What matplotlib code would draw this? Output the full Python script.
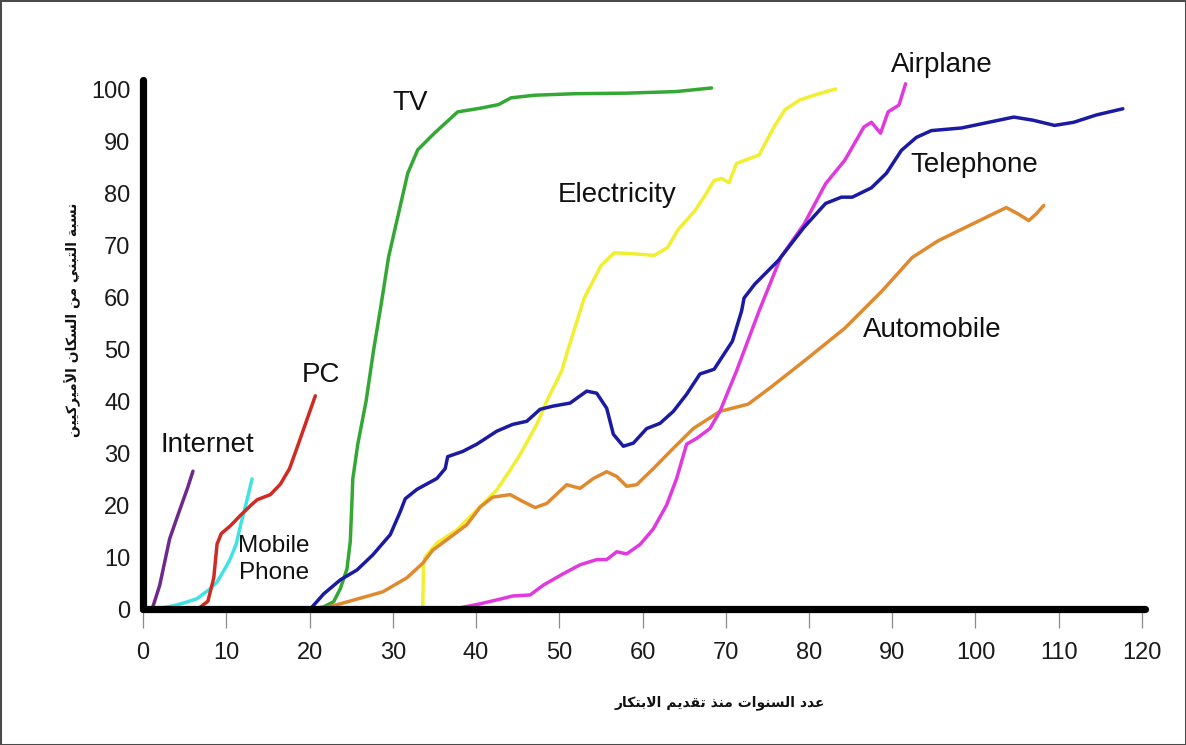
import matplotlib
matplotlib.use("Agg")
import matplotlib.pyplot as plt
from matplotlib.patches import Rectangle

# ---------------- data (years since invention, % adoption) ----------------
internet = [(1.1, 0), (2.0, 4.5), (3.2, 13.5), (4.4, 19), (5.4, 23.5), (6.0, 26.5)]
mobile_phone = [(1.4, 0), (3.6, 0.6), (5.0, 1.2), (6.5, 2), (8.0, 3.8), (8.9, 5.2),
                (10.0, 8.2), (10.5, 9.7), (11.2, 12.5), (11.7, 16), (12.5, 21), (13.1, 25)]
pc = [(6.6, 0), (7.8, 1.5), (8.5, 6), (8.9, 12.5), (9.4, 14.5), (10.5, 16), (11.7, 18),
      (13.0, 20), (13.7, 21), (15.3, 22), (16.5, 24), (17.6, 27), (18.5, 31), (19.6, 36),
      (20.7, 41)]
tv = [(7.0, 0), (20.0, 0), (21.7, 0.4), (22.9, 1.4), (23.7, 3.9), (24.5, 7.7), (24.9, 13),
      (25.1, 20.7), (25.2, 25), (25.8, 31.7), (26.8, 40), (27.7, 49.8), (28.6, 58.5),
      (29.5, 67.7), (30.6, 75.4), (31.8, 83.8), (33.0, 88.3), (35.0, 91.5), (37.8, 95.6),
      (40.5, 96.3), (42.7, 97), (44.2, 98.3), (47.0, 98.8), (52.0, 99.1), (58.0, 99.2),
      (64.0, 99.5), (68.3, 100.2)]
electricity = [(33.6, 0), (33.7, 8.5), (33.9, 10), (35.3, 12.7), (37.7, 15.2), (40.1, 19),
               (42.5, 22.9), (44.1, 26.7), (45.3, 29.7), (47.3, 35.5), (48.5, 40),
               (50.3, 45.8), (51.0, 49.6), (53.0, 59.8), (55.0, 66), (56.6, 68.5),
               (59.0, 68.3), (61.4, 68), (63.0, 69.5), (64.3, 73), (66.3, 76.6),
               (67.5, 79.5), (68.6, 82.4), (69.5, 82.8), (70.4, 82), (71.3, 85.7),
               (74.0, 87.3), (75.8, 92.7), (77.1, 96), (78.9, 97.9), (81.0, 99),
               (83.2, 100)]
airplane = [(32.8, 0), (38.0, 0.2), (40.5, 1), (42.9, 1.9), (44.4, 2.5), (46.5, 2.7),
            (48.1, 4.6), (50.5, 6.8), (52.5, 8.5), (54.5, 9.5), (55.7, 9.5), (56.9, 11),
            (58.1, 10.6), (59.7, 12.4), (61.3, 15.4), (62.9, 20), (64.1, 25.1),
            (65.3, 31.7), (66.5, 32.8), (68.1, 34.7), (69.3, 38), (71.3, 45.8),
            (74.0, 57.3), (76.6, 67.6), (79.4, 74), (82.0, 81.8), (84.3, 86.3),
            (86.6, 92.7), (87.5, 93.6), (88.6, 91.5), (89.5, 95.6), (90.8, 96.9),
            (91.6, 101)]
telephone = [(20.1, 0), (21.7, 2.9), (23.7, 5.6), (25.7, 7.5), (27.6, 10.4), (29.7, 14.3),
             (30.9, 18.7), (31.5, 21.2), (32.9, 23), (35.3, 25.1), (36.3, 27), (36.6, 29.3),
             (38.4, 30.3), (40.1, 31.7), (42.5, 34.2), (44.4, 35.5), (46.1, 36.1),
             (47.7, 38.4), (49.2, 39), (51.3, 39.6), (53.3, 41.9), (54.5, 41.5),
             (55.7, 38.6), (56.5, 33.6), (57.7, 31.3), (58.9, 31.9), (60.5, 34.7),
             (62.1, 35.7), (63.7, 38), (65.3, 41.3), (66.9, 45.2), (68.6, 46.1),
             (70.8, 51.5), (71.9, 57.3), (72.2, 59.8), (73.5, 62.5), (76.3, 67),
             (79.4, 73.4), (82.0, 78), (83.9, 79.2), (85.2, 79.2), (87.5, 81),
             (89.3, 83.8), (91.1, 88.2), (92.9, 90.7), (94.7, 92), (98.3, 92.5),
             (101.0, 93.4), (104.6, 94.6), (106.9, 94), (109.5, 93), (111.8, 93.6),
             (114.5, 95), (117.7, 96.2)]
automobile = [(21.3, 0), (23.7, 1.0), (25.7, 1.9), (28.8, 3.3), (31.7, 6), (33.6, 8.8),
              (34.8, 11.3), (36.9, 13.8), (38.9, 16.2), (40.5, 19.6), (42.0, 21.5),
              (44.1, 22), (45.6, 20.7), (47.1, 19.5), (48.5, 20.3), (50.9, 23.9),
              (52.5, 23.2), (54.1, 25.1), (55.7, 26.4), (56.9, 25.5), (58.1, 23.6),
              (59.3, 23.9), (61.3, 27), (63.7, 30.9), (66.1, 34.7), (69.3, 38),
              (72.7, 39.4), (75.3, 42.5), (79.9, 48.3), (84.3, 54), (88.8, 61.2),
              (92.4, 67.6), (95.5, 70.8), (99.2, 73.7), (103.7, 77.2), (105.1, 76),
              (106.4, 74.7), (107.3, 76), (108.2, 77.6)]

x_ticks = list(range(0, 121, 10))
y_ticks = list(range(0, 101, 10))
x_label = "عدد السنوات منذ تقديم الابتكار"
y_label = "نسبة التبني من السكان الأميركيين"

# ---------------- minimal Arabic shaping (presentation forms + RTL order) ----------------
FORMS = {
    "\u0627": ("\uFE8D", "\uFE8E", None, None),
    "\u0623": ("\uFE83", "\uFE84", None, None),
    "\u0628": ("\uFE8F", "\uFE90", "\uFE91", "\uFE92"),
    "\u0629": ("\uFE93", "\uFE94", None, None),
    "\u062A": ("\uFE95", "\uFE96", "\uFE97", "\uFE98"),
    "\u062F": ("\uFEA9", "\uFEAA", None, None),
    "\u0630": ("\uFEAB", "\uFEAC", None, None),
    "\u0631": ("\uFEAD", "\uFEAE", None, None),
    "\u0633": ("\uFEB1", "\uFEB2", "\uFEB3", "\uFEB4"),
    "\u0639": ("\uFEC9", "\uFECA", "\uFECB", "\uFECC"),
    "\u0642": ("\uFED5", "\uFED6", "\uFED7", "\uFED8"),
    "\u0643": ("\uFED9", "\uFEDA", "\uFEDB", "\uFEDC"),
    "\u0644": ("\uFEDD", "\uFEDE", "\uFEDF", "\uFEE0"),
    "\u0645": ("\uFEE1", "\uFEE2", "\uFEE3", "\uFEE4"),
    "\u0646": ("\uFEE5", "\uFEE6", "\uFEE7", "\uFEE8"),
    "\u0648": ("\uFEED", "\uFEEE", None, None),
    "\u064A": ("\uFEF1", "\uFEF2", "\uFEF3", "\uFEF4"),
}
LAMALEF = {"\u0627": ("\uFEFB", "\uFEFC"), "\u0623": ("\uFEF7", "\uFEF8")}


def shape(text):
    merged, i = [], 0
    while i < len(text):
        c = text[i]
        if c == "\u0644" and i + 1 < len(text) and text[i + 1] in LAMALEF:
            merged.append(("LA", text[i + 1]))
            i += 2
        else:
            merged.append(c)
            i += 1

    def dual(c):
        return isinstance(c, str) and c in FORMS and FORMS[c][2] is not None

    def joining(c):
        return isinstance(c, tuple) or (c in FORMS)

    res = []
    for k, c in enumerate(merged):
        prev = merged[k - 1] if k > 0 else None
        nxt = merged[k + 1] if k + 1 < len(merged) else None
        jp = prev is not None and dual(prev)
        if isinstance(c, tuple):
            iso, fin = LAMALEF[c[1]]
            res.append(fin if jp else iso)
            continue
        if c not in FORMS:
            res.append(c)
            continue
        iso, fin, ini, med = FORMS[c]
        jn = ini is not None and nxt is not None and joining(nxt)
        if jp and jn:
            res.append(med)
        elif jp:
            res.append(fin)
        elif jn:
            res.append(ini)
        else:
            res.append(iso)
    return "".join(reversed(res))


# ---------------- figure ----------------
plt.rcParams["font.family"] = ["Liberation Sans", "DejaVu Sans"]
W, H = 1186, 745
fig = plt.figure(figsize=(W / 100, H / 100), dpi=100)
fig.patch.set_facecolor("white")
ax = fig.add_axes([143 / W, (H - 609) / H, (1145 - 143) / W, (609 - 80) / H])
ax.set_xlim(0, (1145 - 143) / 8.325)
ax.set_ylim(0, (609 - 80) / 5.2)

series = [
    (internet, "#6e2a8a"),
    (mobile_phone, "#3fe3e6"),
    (pc, "#d02a22"),
    (tv, "#34a834"),
    (electricity, "#f2ee30"),
    (automobile, "#e08a30"),
    (airplane, "#e03ade"),
    (telephone, "#1a1aa2"),
]
for pts, col in series:
    xs = [p[0] for p in pts]
    ys = [p[1] for p in pts]
    ax.plot(xs, ys, color=col, lw=2.5, solid_joinstyle="round",
            solid_capstyle="round", clip_on=False, zorder=2)

for s in ("top", "right"):
    ax.spines[s].set_visible(False)
for s in ("left", "bottom"):
    ax.spines[s].set_linewidth(5.2)
    ax.spines[s].set_color("black")
    ax.spines[s].set_capstyle("round")
    ax.spines[s].set_zorder(3)

ax.set_xticks(x_ticks)
ax.set_yticks(y_ticks)
ax.tick_params(axis="x", direction="out", length=13.5, width=0.9, color="#8a8a8a",
               labelsize=17, labelcolor="#1a1a1a", pad=10)
ax.tick_params(axis="y", length=0, labelsize=17, labelcolor="#1a1a1a", pad=9)

lab_kw = dict(ha="center", va="center", color="#111111", clip_on=False)
ax.text(7.7, 31.5, "Internet", fontsize=20, **lab_kw)
ax.text(21.4, 45.0, "PC", fontsize=20, **lab_kw)
ax.text(15.7, 9.6, "Mobile\nPhone", fontsize=17.5, linespacing=1.3, **lab_kw)
ax.text(32.1, 97.3, "TV", fontsize=20, **lab_kw)
ax.text(56.9, 79.6, "Electricity", fontsize=20, **lab_kw)
ax.text(96.0, 104.6, "Airplane", fontsize=20, **lab_kw)
ax.text(99.8, 85.4, "Telephone", fontsize=20, **lab_kw)
ax.text(94.8, 53.7, "Automobile", fontsize=20, **lab_kw)

fig.text(720 / W, 1 - 703 / H, shape(x_label), family="DejaVu Sans", fontsize=10,
         fontweight="bold", ha="center", va="center", color="#111111")
fig.text(73 / W, 1 - 320 / H, shape(y_label), family="DejaVu Sans", fontsize=10,
         fontweight="bold", ha="center", va="center", rotation=90, color="#111111")

fig.add_artist(Rectangle((0, 0), 1, 1, transform=fig.transFigure, fill=False,
                         lw=2.2, ec="#4a4a4a"))

fig.savefig("out.png", dpi=100, facecolor="white")
